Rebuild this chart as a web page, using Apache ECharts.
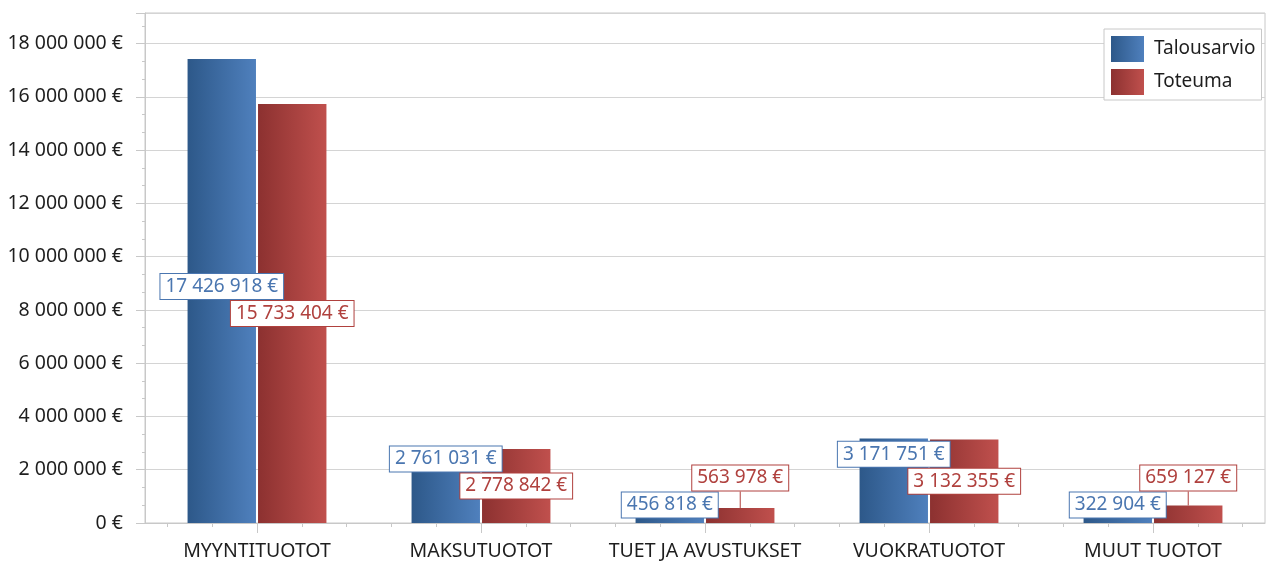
<!DOCTYPE html>
<html>
<head>
<meta charset="utf-8">
<script src="https://cdn.jsdelivr.net/npm/echarts@6/dist/echarts.min.js"></script>
<style>
html,body{margin:0;padding:0;background:#fff;}
#chart{width:1266px;height:561px;}
</style>
</head>
<body>
<div id="chart"></div>
<script>
const categories = ['MYYNTITUOTOT', 'MAKSUTUOTOT', 'TUET JA AVUSTUKSET', 'VUOKRATUOTOT', 'MUUT TUOTOT'];
const seriesNames = ['Talousarvio', 'Toteuma'];
const budget = [17426918, 2761031, 456818, 3171751, 322904];
const actual = [15733404, 2778842, 563978, 3132355, 659127];
const yTickStep = 2000000;
const yMax = 19150000;

const FONT = 'Noto Sans';
const BLUE_TEXT = '#4a76b0';
const RED_TEXT = '#b0413e';
const LABEL_H = 26;

function fmt(v) {
  return String(Math.round(v)).replace(/\B(?=(\d{3})+(?!\d))/g, ' ') + ' €';
}

const chart = echarts.init(document.getElementById('chart'), null, {renderer: 'canvas'});
let shifts = {};
let lineFlags = {};

function computeShifts() {
  const y0 = chart.convertToPixel({yAxisIndex: 0}, 0);
  const limit = y0 - 5 - LABEL_H / 2;
  const s = {}, l = {};
  categories.forEach((c, i) => {
    const vals = [budget[i], actual[i]];
    const tops = vals.map(v => chart.convertToPixel({yAxisIndex: 0}, v));
    const nat = tops.map(t => (y0 + t) / 2);
    const pos = nat.map(n => Math.min(n, limit));
    const redClamped = nat[1] > limit;
    if (Math.abs(pos[0] - pos[1]) < LABEL_H + 1) {
      if (redClamped) pos[1] = pos[0] - (LABEL_H + 1);
      else pos[0] = pos[1] - (LABEL_H + 1);
    }
    [0, 1].forEach(k => {
      s[k + '-' + i] = pos[k];
      l[k + '-' + i] = (pos[k] + LABEL_H / 2) < tops[k] - 2;
    });
  });
  shifts = s; lineFlags = l;
}

function barGradient(c0, c1) {
  return new echarts.graphic.LinearGradient(0, 0, 1, 0, [
    {offset: 0, color: c0}, {offset: 1, color: c1}
  ]);
}

function makeSeries(k, values, c0, c1, textColor) {
  return {
    name: seriesNames[k],
    type: 'bar',
    barGap: '3%',
    barCategoryGap: '38%',
    itemStyle: {color: barGradient(c0, c1)},
    data: values.map((v, i) => ({
      value: v,
      labelLine: {show: !!lineFlags[k + '-' + i], lineStyle: {color: textColor, width: 1}}
    })),
    label: {
      show: true,
      position: 'inside',
      formatter: p => fmt(p.value),
      color: textColor,
      fontFamily: FONT,
      fontSize: 19,
      lineHeight: 20,
      backgroundColor: '#ffffff',
      borderColor: textColor,
      borderWidth: 1,
      padding: [3, 5, 2, 5]
    },
    labelLine: {show: false, length2: 0, smooth: false},
    labelLayout: function (params) {
      const t = shifts[params.seriesIndex + '-' + params.dataIndex];
      if (t == null) return {};
      const cur = params.labelRect.y + params.labelRect.height / 2;
      return {dy: t - cur};
    },
    emphasis: {disabled: true}
  };
}

function buildOption() {
  return {
    animation: false,
    backgroundColor: '#ffffff',
    textStyle: {fontFamily: FONT},
    grid: {left: 145, right: 1, top: 13, bottom: 38, show: true, borderColor: '#c8c8c8', borderWidth: 1, containLabel: false},
    legend: {
      orient: 'vertical',
      left: 1104, top: 29,
      padding: [7, 6, 5, 7],
      itemWidth: 33, itemHeight: 26, itemGap: 7,
      borderColor: '#c8c8c8', borderWidth: 1, borderRadius: 0,
      backgroundColor: '#ffffff',
      icon: 'rect',
      textStyle: {fontFamily: FONT, fontSize: 19, color: '#1e1e1e', padding: [0, 0, 0, 5]},
      data: seriesNames
    },
    xAxis: [{
      type: 'category',
      data: categories,
      position: 'bottom',
      axisLine: {show: true, lineStyle: {color: '#c8c8c8'}},
      axisTick: {show: true, alignWithLabel: true, length: 10, lineStyle: {color: '#c8c8c8'}},
      axisLabel: {color: '#1e1e1e', fontFamily: FONT, fontSize: 19.5, margin: 18, interval: 0},
      splitLine: {show: false}
    }, {
      type: 'category',
      data: new Array(categories.length * 5).fill(''),
      position: 'bottom',
      axisLine: {show: false},
      axisTick: {show: true, alignWithLabel: true, length: 4, interval: 0, lineStyle: {color: '#c8c8c8'}},
      axisLabel: {show: false},
      splitLine: {show: false}
    }],
    yAxis: {
      type: 'value',
      min: 0, max: yMax, interval: yTickStep,
      axisLine: {show: true, lineStyle: {color: '#c8c8c8'}},
      axisTick: {show: true, length: 9, lineStyle: {color: '#c8c8c8'}},
      minorTick: {show: true, splitNumber: 3, length: 3, lineStyle: {color: '#c8c8c8'}},
      splitLine: {show: true, lineStyle: {color: '#d4d4d4'}},
      axisLabel: {
        color: '#1e1e1e', fontFamily: FONT, fontSize: 19.5, margin: 22,
        formatter: v => (v % yTickStep === 0 ? fmt(v) : '')
      }
    },
    series: [
      makeSeries(0, budget, '#2d5889', '#4f80bd', BLUE_TEXT),
      makeSeries(1, actual, '#8c3130', '#c0504d', RED_TEXT)
    ]
  };
}

chart.setOption(buildOption());
computeShifts();
chart.setOption(buildOption(), true);
</script>
</body>
</html>
